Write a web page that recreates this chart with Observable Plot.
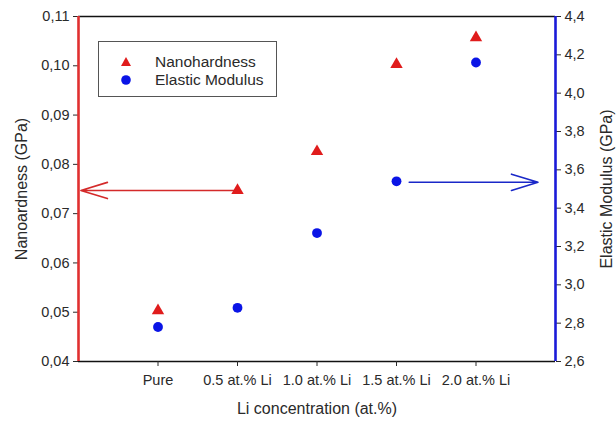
<!DOCTYPE html>
<html>
<head>
<meta charset="utf-8">
<script src="https://cdn.jsdelivr.net/npm/d3@7"></script>
<script src="https://cdn.jsdelivr.net/npm/@observablehq/plot@0.6"></script>
<style>
  html, body { margin: 0; padding: 0; background: #fff; }
  #wrap { position: relative; width: 616px; height: 421px; font-family: "Liberation Sans", Arial, sans-serif; }
  #legend {
    position: absolute; left: 98px; top: 41px; width: 179px; height: 56px;
    box-sizing: border-box; border: 1px solid #555; background: #fff;
    font-size: 15.5px; color: #2a2a2a;
  }
  #legend .row { position: absolute; left: 20px; display: flex; align-items: center; height: 18px; }
  #legend svg { width: 14px; height: 14px; margin-right: 22px; }
  .titles text[font-size] { }
</style>
</head>
<body>
<div id="wrap">
  <div id="chart"></div>
  <div id="legend">
    <div class="row" style="top:11px"><svg viewBox="-7 -7 14 14"><path d="M0,-5L5,4H-5Z" fill="#e01c1c"/></svg>Nanohardness</div>
    <div class="row" style="top:29px"><svg viewBox="-7 -7 14 14"><circle r="4.8" fill="#0a14e6"/></svg>Elastic Modulus</div>
  </div>
</div>
<script>
// Sample categories along the x axis
const categories = ["Pure", "0.5 at.% Li", "1.0 at.% Li", "1.5 at.% Li", "2.0 at.% Li"];
// Nanohardness (GPa), left axis
const nanohardness = [0.0503, 0.0747, 0.0826, 0.1003, 0.1057];
// Elastic modulus (GPa), right axis
const elasticModulus = [2.78, 2.88, 3.27, 3.54, 4.16];
// Axis ticks
const leftTicks = [0.04, 0.05, 0.06, 0.07, 0.08, 0.09, 0.10, 0.11];
const rightTicks = [2.6, 2.8, 3.0, 3.2, 3.4, 3.6, 3.8, 4.0, 4.2, 4.4];
// Arrows pointing each series to its axis: [x1 index, value, x2 index]
const hardnessArrow = [{x1: 1, v: 0.0747, x2: -0.97}];
const modulusArrow = [{x1: 3.16, v: 3.535, x2: 4.78}];

const leftDomain = [0.04, 0.11];
const rightDomain = [2.6, 4.4];
// modulus values are placed on the hardness scale through a linear map
const toLeft = d3.scaleLinear().domain(rightDomain).range(leftDomain);
const comma = v => d3.format(".2f")(v).replace(".", ",");
const comma1 = v => d3.format(".1f")(v).replace(".", ",");

const red = "#e01c1c", blue = "#0a14e6", axisRed = "#e03030", axisBlue = "#1a1ad8";
const idx = categories.map((_, i) => i);

const chart = Plot.plot({
  width: 616,
  height: 421,
  marginLeft: 78,
  marginRight: 61,
  marginTop: 16,
  marginBottom: 60,
  style: {fontFamily: "Liberation Sans, Arial, sans-serif", fontSize: "14.5px", color: "#2a2a2a", background: "#fff"},
  x: {type: "linear", domain: [-1, 5]},
  y: {domain: leftDomain},
  marks: [
    Plot.ruleY([0.11], {x1: -1, x2: 5, stroke: "#111", strokeWidth: 1.6}),
    Plot.ruleY([0.04], {x1: -1, x2: 5, stroke: "#111", strokeWidth: 1.6}),
    Plot.axisX({ticks: idx, tickFormat: i => categories[i], tickSize: 5, tickPadding: 8, label: null}),
    Plot.axisX({ticks: [], label: "Li concentration (at.%)", labelAnchor: "center", labelArrow: "none",
      labelOffset: 52, fontSize: 16}),
    Plot.axisY({anchor: "left", ticks: leftTicks, tickFormat: comma, tickSize: 5, tickPadding: 4, label: null}),
    Plot.axisY({anchor: "left", ticks: [], label: "Nanoardness (GPa)", labelAnchor: "center", labelArrow: "none",
      labelOffset: 63, fontSize: 16}),
    Plot.axisY({anchor: "right", ticks: rightTicks.map(toLeft), tickFormat: v => comma1(toLeft.invert(v)),
      tickSize: 5, tickPadding: 4, label: null}),
    Plot.axisY({anchor: "right", ticks: [], label: "Elastic Modulus (GPa)", labelAnchor: "center", labelArrow: "none",
      labelOffset: 56, fontSize: 16}),
    Plot.ruleX([-1], {y1: 0.04, y2: 0.11, stroke: axisRed, strokeWidth: 2.6}),
    Plot.ruleX([5], {y1: 0.04, y2: 0.11, stroke: axisBlue, strokeWidth: 2.6}),
    Plot.arrow(hardnessArrow, {x1: "x1", y1: "v", x2: "x2", y2: "v", stroke: "#d42a2a",
      strokeWidth: 1.6, headLength: 26, headAngle: 34, bend: 0, inset: 0}),
    Plot.arrow(modulusArrow, {x1: "x1", y1: d => toLeft(d.v), x2: "x2", y2: d => toLeft(d.v), stroke: "#1a28c8",
      strokeWidth: 1.6, headLength: 26, headAngle: 34, bend: 0, inset: 0}),
    Plot.dot(idx, {x: i => i, y: i => nanohardness[i], symbol: "triangle", r: 4.6, fill: red}),
    Plot.dot(idx, {x: i => i, y: i => toLeft(elasticModulus[i]), symbol: "circle", r: 4.9, fill: blue})
  ]
});
document.getElementById("chart").appendChild(chart);
</script>
</body>
</html>
